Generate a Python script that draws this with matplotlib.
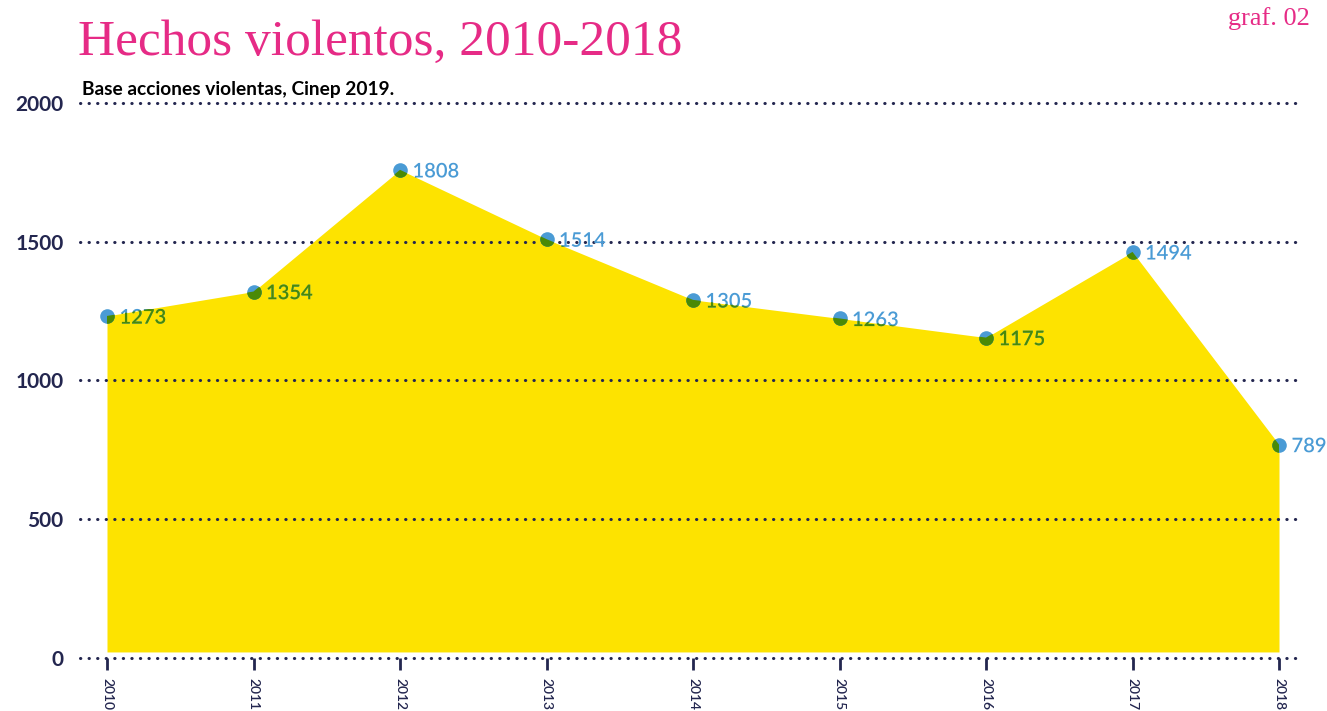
import matplotlib.pyplot as plt
import matplotlib.transforms as mtransforms
from matplotlib.textpath import TextPath
from matplotlib.patches import PathPatch
from matplotlib.font_manager import FontProperties

# data
years = [2010, 2011, 2012, 2013, 2014, 2015, 2016, 2017, 2018]
labels = ['1273', '1354', '1808', '1514', '1305', '1263', '1175', '1494', '789']
# heights at which the points are drawn in the original
drawn = [1232, 1320, 1759, 1509, 1290, 1223, 1154, 1463, 768]
base = 20
yticks = [0, 500, 1000, 1500, 2000]

yellow = '#fde300'
blue = '#4a9bd5'
green = '#4a8a05'
navy = '#23264f'
pink = '#e62b86'

W, H = 1327, 711
fig = plt.figure(figsize=(W / 100, H / 100), dpi=100)
ax = fig.add_axes([80 / W, (H - 657.5) / H, (1303 - 80) / W, (657.5 - 103) / H])
ax.set_xlim(2010 - 27 / 146.5, 2018 + 24 / 146.5)
ax.set_ylim(0, 2000)
for s in ax.spines.values():
    s.set_visible(False)

area = ax.fill_between(years, base, drawn, color=yellow, lw=0, zorder=1)
clip = area.get_paths()[0]

for v in yticks:
    ax.axhline(v, color=navy, lw=2.2, linestyle=(0, (0.1, 2.7)),
               dash_capstyle='round', zorder=2, clip_on=False)

# points: blue, green where they sit on the yellow area
ax.plot(years, drawn, 'o', ms=10.5, color=blue, mew=0, zorder=3, clip_on=False)
pts = ax.plot(years, drawn, 'o', ms=10.5, color=green, mew=0, zorder=4)[0]
pts.set_clip_path(clip, ax.transData)

# value labels as text paths so they can be clipped the same way
fp = FontProperties(family='Lato', weight='semibold')
for x, y, lab in zip(years, drawn, labels):
    tp = TextPath((0, 0), lab, size=14.5, prop=fp)
    tr = (mtransforms.Affine2D().translate(9, -5.5).scale(1 / 72)
          + fig.dpi_scale_trans + mtransforms.ScaledTranslation(x, y, ax.transData))
    ax.add_patch(PathPatch(tp, transform=tr, color=blue, lw=0, zorder=5, clip_on=False))
    g = PathPatch(tp, transform=tr, color=green, lw=0, zorder=6)
    ax.add_patch(g)
    g.set_clip_path(clip, ax.transData)

ax.set_yticks(yticks)
ax.set_yticklabels([str(v) for v in yticks], fontsize=15, fontweight='bold',
                   color=navy, family='Lato')
ax.tick_params(axis='y', length=0, pad=12)
ax.set_xticks(years)
ax.set_xticklabels([str(y) for y in years], rotation=-90, fontsize=10,
                   color=navy, family='Lato', fontweight='semibold')
ax.tick_params(axis='x', length=8.6, width=2, color=navy, pad=6)

fig.text(78 / W, 1 - 55 / H, 'Hechos violentos, 2010-2018', fontsize=37,
         family='Liberation Serif', color=pink, va='baseline')
fig.text(1310 / W, 1 - 25 / H, 'graf. 02', fontsize=19, family='Liberation Serif',
         color=pink, ha='right', va='baseline')
fig.text(82 / W, 1 - 95 / H, 'Base acciones violentas, Cinep 2019.', fontsize=13.8,
         fontweight='bold', family='Lato', color='black', va='baseline')

fig.savefig('out.png', dpi=100)
